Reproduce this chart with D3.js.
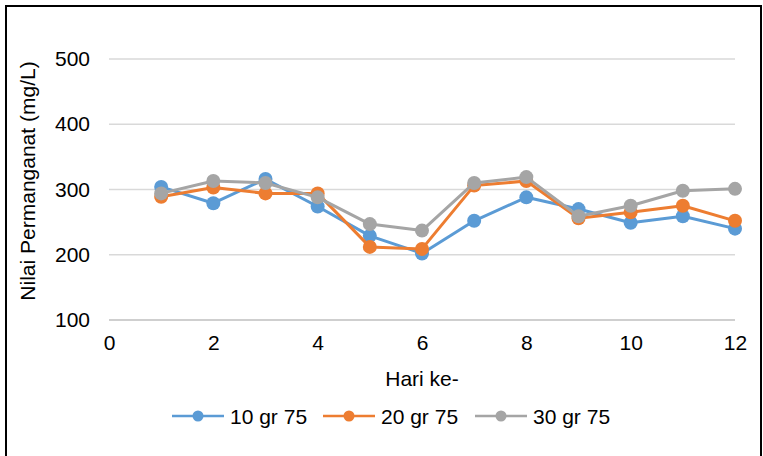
<!DOCTYPE html>
<html>
<head>
<meta charset="utf-8">
<script src="https://cdn.jsdelivr.net/npm/d3@7"></script>
<style>
  html, body { margin: 0; padding: 0; background: #fff; }
  svg { display: block; font-family: "Liberation Sans", Arial, sans-serif; }
</style>
</head>
<body>
<svg id="chart" width="763" height="456"></svg>
<script>
// Days of observation
const days = [1, 2, 3, 4, 5, 6, 7, 8, 9, 10, 11, 12];

// Permanganate values (mg/L) per treatment
const series10 = [304, 279, 316, 274, 229, 202, 252, 288, 270, 249, 259, 240];
const series20 = [289, 303, 294, 294, 212, 209, 306, 313, 256, 265, 275, 252];
const series30 = [294, 313, 310, 288, 247, 237, 310, 319, 259, 275, 298, 301];

const seriesNames = ["10 gr 75", "20 gr 75", "30 gr 75"];
const seriesColors = ["#5B9BD5", "#ED7D31", "#A5A5A5"];

const xTicks = [0, 2, 4, 6, 8, 10, 12];
const yTicks = [100, 200, 300, 400, 500];

const FONT = 21;
const svg = d3.select("#chart");

// Outer frame
svg.append("rect")
  .attr("x", 6).attr("y", 6)
  .attr("width", 755).attr("height", 460)
  .attr("fill", "#fff")
  .attr("stroke", "#000")
  .attr("stroke-width", 2);

const x = d3.scaleLinear().domain([0, 12]).range([109, 735]);
const y = d3.scaleLinear().domain([100, 500]).range([320, 59]);

// Horizontal gridlines
svg.append("g")
  .selectAll("line")
  .data(yTicks)
  .join("line")
  .attr("x1", x(0)).attr("x2", x(12))
  .attr("y1", d => y(d)).attr("y2", d => y(d))
  .attr("stroke", d => d === 100 ? "#BFBFBF" : "#D9D9D9")
  .attr("stroke-width", 1.5);

// Y axis labels
const yAxis = d3.axisLeft(y).tickValues(yTicks).tickSize(0).tickPadding(19);
const gy = svg.append("g").attr("transform", `translate(${x(0)},0)`).call(yAxis);
gy.select(".domain").remove();
gy.selectAll("text").attr("font-size", FONT).attr("fill", "#000")
  .attr("font-family", "Liberation Sans, Arial, sans-serif");

// X axis labels
const xAxis = d3.axisBottom(x).tickValues(xTicks).tickSize(0).tickPadding(15);
const gx = svg.append("g").attr("transform", `translate(0,${y(100)})`).call(xAxis);
gx.select(".domain").remove();
gx.selectAll("text").attr("font-size", FONT).attr("fill", "#000")
  .attr("font-family", "Liberation Sans, Arial, sans-serif");

// Axis titles
svg.append("text")
  .attr("x", 422).attr("y", 386)
  .attr("text-anchor", "middle")
  .attr("font-size", FONT)
  .text("Hari ke-");

svg.append("text")
  .attr("transform", "translate(35,181) rotate(-90)")
  .attr("text-anchor", "middle")
  .attr("font-size", FONT)
  .text("Nilai Permanganat (mg/L)");

// Lines with markers
const allSeries = [series10, series20, series30];
const line = d3.line().x((d, i) => x(days[i])).y(d => y(d));

allSeries.forEach((vals, si) => {
  const g = svg.append("g");
  g.append("path")
    .datum(vals)
    .attr("d", line)
    .attr("fill", "none")
    .attr("stroke", seriesColors[si])
    .attr("stroke-width", 3)
    .attr("stroke-linejoin", "round");
  g.selectAll("circle")
    .data(vals)
    .join("circle")
    .attr("cx", (d, i) => x(days[i]))
    .attr("cy", d => y(d))
    .attr("r", 7)
    .attr("fill", seriesColors[si]);
});

// Legend
const legendX = [172, 323, 475];
const legendY = 416;
const legend = svg.append("g");
seriesNames.forEach((name, i) => {
  const lx = legendX[i];
  legend.append("line")
    .attr("x1", lx).attr("x2", lx + 52)
    .attr("y1", legendY).attr("y2", legendY)
    .attr("stroke", seriesColors[i]).attr("stroke-width", 2.5);
  legend.append("circle")
    .attr("cx", lx + 26).attr("cy", legendY).attr("r", 5.5)
    .attr("fill", seriesColors[i]);
  legend.append("text")
    .attr("x", lx + 58).attr("y", legendY + 7.5)
    .attr("font-size", FONT)
    .text(name);
});
</script>
</body>
</html>
